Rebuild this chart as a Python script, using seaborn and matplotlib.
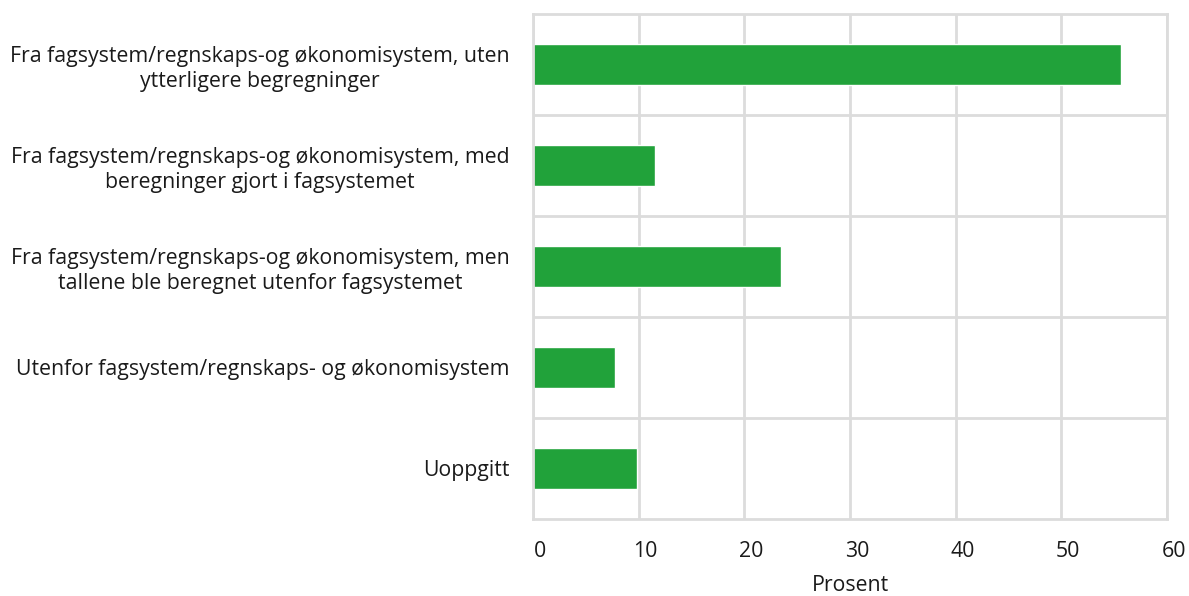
import matplotlib
matplotlib.use("Agg")
import matplotlib.pyplot as plt
import matplotlib.transforms as mtransforms
import seaborn as sns
import pandas as pd

categories = [
    "Fra fagsystem/regnskaps-og økonomisystem, uten\nytterligere begregninger",
    "Fra fagsystem/regnskaps-og økonomisystem, med\nberegninger gjort i fagsystemet",
    "Fra fagsystem/regnskaps-og økonomisystem, men\ntallene ble beregnet utenfor fagsystemet",
    "Utenfor fagsystem/regnskaps- og økonomisystem",
    "Uoppgitt",
]
values = [55.6, 11.5, 23.5, 7.8, 9.8]
xticks = [0, 10, 20, 30, 40, 50, 60]

df = pd.DataFrame({"kategori": categories, "prosent": values})

sns.set_style("white")
plt.rcParams["font.family"] = ["Open Sans", "DejaVu Sans"]
fs = 15.3

fig = plt.figure(figsize=(11.89, 5.96), dpi=100)
ax = fig.add_axes([0.4483, 0.1292, 0.5332, 0.8473])

sns.barplot(data=df, x="prosent", y="kategori", orient="h", color="#21A23A",
            width=0.4, saturation=1, ax=ax)

ax.set_xlim(0, 60)
ax.set_ylim(4.5, -0.5)
ax.set_xticks(xticks)
ax.set_yticks(range(len(categories)))
ax.set_yticklabels(categories, multialignment="center", linespacing=1.22)
ax.set_yticks([0.5, 1.5, 2.5, 3.5], minor=True)

grid_col = "#DCDCDC"
ax.grid(axis="x", which="major", color=grid_col, linewidth=2)
ax.grid(axis="y", which="minor", color=grid_col, linewidth=2)
ax.set_axisbelow(True)
for sp in ax.spines.values():
    sp.set_color(grid_col)
    sp.set_linewidth(2)

ax.tick_params(axis="both", which="both", length=0, labelsize=fs, colors="#1a1a1a")
ax.tick_params(axis="x", pad=16)
ax.tick_params(axis="y", pad=17)

# x tick labels sit slightly right of the gridlines in the original
off = mtransforms.ScaledTranslation(7 / 100, 0, fig.dpi_scale_trans)
for lab in ax.get_xticklabels():
    lab.set_transform(lab.get_transform() + off)

ax.set_ylabel("")
ax.set_xlabel("Prosent", fontsize=fs, labelpad=9, color="#1a1a1a")

fig.savefig("out.png", dpi=100)
